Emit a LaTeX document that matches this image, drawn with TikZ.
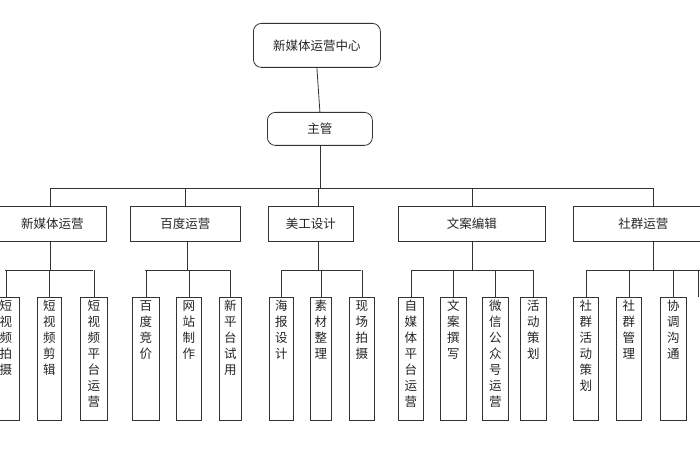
\documentclass[tikz,border=0pt]{standalone}
\usepackage{fontspec}
\newfontfamily\cjk{Noto Sans CJK SC}
\begin{document}
\begin{tikzpicture}[x=1pt,y=-1pt,
  every node/.style={font=\cjk\fontsize{12.5}{16}\selectfont, text=black!85},
  box/.style={draw=black!80, line width=0.8pt, inner sep=0pt, anchor=north west},
  rbox/.style={box, rounded corners=8pt},
  ln/.style={draw=black!80, line width=0.8pt}]
\path[use as bounding box] (0,0) rectangle (700,470);
\fill[white] (0,0) rectangle (700,470);
\begin{scope}
\clip (0,0) rectangle (700,470);
\newcommand{\lvtwo}[4]{\node[box, minimum width=#3, minimum height=35] (#1) at (#2,206) {#4};}
\newcommand{\leaf}[4]{\node[box, minimum width=#3] (#1) at (#2,297) {\parbox[t][123pt][t]{#3pt}{\centering\vspace*{3pt}#4}};}
\node[rbox, minimum width=127, minimum height=44] (top) at (253,23) {新媒体运营中心};
\node[rbox, minimum width=105, minimum height=33] (zg) at (267,112) {主管};
\lvtwo{a}{-2}{108}{新媒体运营}
\lvtwo{b}{130}{110}{百度运营}
\lvtwo{c}{268}{85}{美工设计}
\lvtwo{d}{398}{147}{文案编辑}
\lvtwo{e}{573}{140}{社群运营}
\leaf{a1}{-8}{27}{短\\视\\频\\拍\\摄}
\leaf{a2}{37}{24}{短\\视\\频\\剪\\辑}
\leaf{a3}{80}{27}{短\\视\\频\\平\\台\\运\\营}
\leaf{b1}{132}{27}{百\\度\\竞\\价}
\leaf{b2}{176}{25}{网\\站\\制\\作}
\leaf{b3}{219}{22}{新\\平\\台\\试\\用}
\leaf{c1}{269}{24}{海\\报\\设\\计}
\leaf{c2}{310}{21}{素\\材\\整\\理}
\leaf{c3}{349}{25}{现\\场\\拍\\摄}
\leaf{d1}{398}{25}{自\\媒\\体\\平\\台\\运\\营}
\leaf{d2}{440}{26}{文\\案\\撰\\写}
\leaf{d3}{482}{26}{微\\信\\公\\众\\号\\运\\营}
\leaf{d4}{520}{26}{活\\动\\策\\划}
\leaf{e1}{573}{25}{社\\群\\活\\动\\策\\划}
\leaf{e2}{616}{25}{社\\群\\管\\理}
\leaf{e3}{660}{26}{协\\调\\沟\\通}
% top connectors
\draw[ln] (top.south) -- (zg.north);
\draw[ln] (zg.south) -- (zg.south |- 0,188);
\draw[ln] (50,188) -- (653,188);
\foreach \x in {50,185,318,472,653}
  \draw[ln] (\x,188) -- (\x,206);
% groups
\foreach \x in {50,187,318,472,653} \draw[ln] (\x,241) -- (\x,270);
\draw[ln] (5,270) -- (93,270);
\draw[ln] (145,270) -- (230,270);
\draw[ln] (281,270) -- (361,270);
\draw[ln] (411,270) -- (533,270);
\draw[ln] (586,270) -- (700,270);
\foreach \n in {a1,a2,a3,b1,b2,b3,c1,c2,c3,d1,d2,d3,d4,e1,e2,e3}
  \draw[ln] (\n.north) -- (\n.north |- 0,270);
\draw[ln] (698,270) -- (698,297);
\end{scope}
\end{tikzpicture}
\end{document}
